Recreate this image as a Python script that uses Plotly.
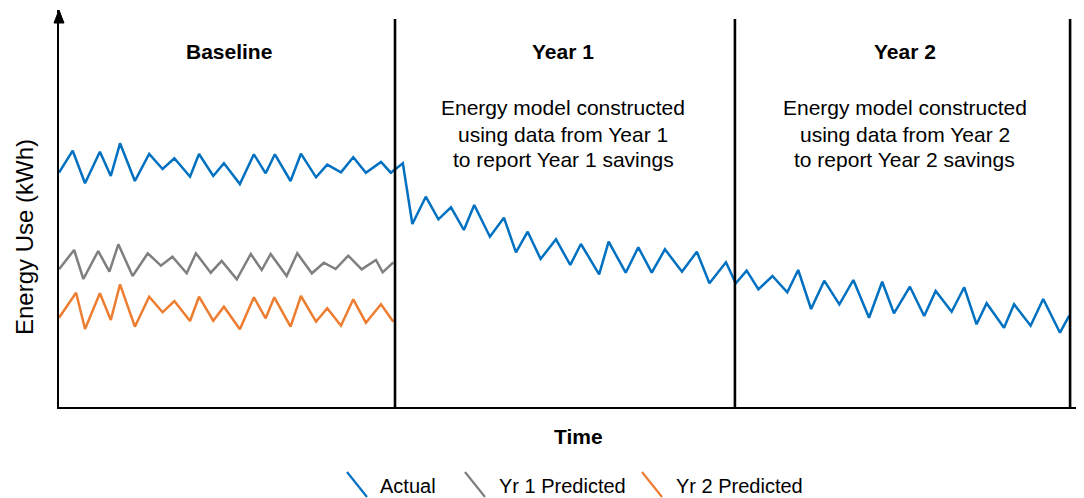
import plotly.graph_objects as go

# ---------------- data (time in months, energy in arbitrary kWh units) ----------------
actual_t = [0.0, 0.49, 0.93, 1.46, 1.85, 2.18, 2.71, 3.22, 3.70, 4.12, 4.68, 5.0, 5.51, 5.89,
            6.46, 6.96, 7.38, 7.71, 8.27, 8.64, 9.18, 9.58, 10.07, 10.51, 10.96, 11.5, 11.85,
            12.28, 12.62, 13.1, 13.55, 14.0, 14.46, 14.83, 15.39, 15.89, 16.32, 16.74, 17.2,
            17.75, 18.26, 18.64, 19.29, 19.63, 20.24, 20.69, 21.17, 21.64, 22.25, 22.78, 23.23,
            23.82, 24.17, 24.56, 24.98, 25.48, 26.01, 26.4, 26.86, 27.33, 27.87, 28.37, 28.93,
            29.4, 29.82, 30.39, 30.9, 31.31, 31.88, 32.33, 32.77, 33.13, 33.75, 34.11, 34.7,
            35.15, 35.75, 36.08]
actual_kwh = [232.3, 254.3, 221.7, 253.3, 229.0, 261.7, 224.0, 251.0, 236.0, 246.7, 228.3, 251.0,
              229.0, 241.7, 221.0, 250.7, 231.7, 250.7, 224.0, 251.3, 227.7, 240.3, 232.7, 247.7,
              232.3, 243.0, 232.3, 241.7, 181.0, 208.3, 185.7, 197.7, 175.0, 200.0, 168.3, 187.3,
              152.7, 173.3, 146.0, 165.7, 140.0, 161.0, 130.7, 163.3, 132.3, 157.7, 132.3, 155.7,
              133.3, 153.3, 121.7, 142.7, 121.7, 134.3, 115.7, 129.0, 112.7, 135.0, 96.0, 124.3,
              100.7, 125.0, 87.3, 123.3, 91.7, 118.3, 89.0, 114.0, 93.3, 117.7, 80.7, 101.7,
              77.3, 100.7, 79.3, 106.0, 72.3, 89.3]

yr1_t = [0.0, 0.54, 0.87, 1.4, 1.8, 2.12, 2.63, 3.17, 3.64, 4.05, 4.56, 4.89, 5.42, 5.81,
         6.35, 6.85, 7.24, 7.56, 8.13, 8.51, 9.03, 9.46, 9.88, 10.33, 10.81, 11.32, 11.56, 11.94]
yr1_kwh = [135.7, 155.0, 126.0, 154.0, 133.3, 160.7, 129.0, 151.7, 139.3, 148.3, 131.7, 151.7,
           132.3, 144.0, 125.7, 151.0, 135.0, 151.0, 129.0, 151.7, 131.7, 142.3, 136.0, 149.3,
           135.7, 145.0, 132.7, 142.7]

yr2_t = [0.0, 0.61, 0.93, 1.46, 1.85, 2.18, 2.71, 3.22, 3.7, 4.12, 4.68, 5.0, 5.51, 5.89,
         6.46, 6.96, 7.38, 7.69, 8.27, 8.64, 9.18, 9.58, 10.07, 10.51, 10.96, 11.5, 11.94]
yr2_kwh = [87.3, 112.3, 76.0, 111.7, 85.0, 120.7, 78.3, 108.3, 92.7, 104.0, 84.0, 108.3,
           84.3, 98.3, 75.7, 107.7, 86.7, 107.7, 78.3, 109.0, 83.3, 96.7, 79.3, 105.7,
           82.3, 100.7, 83.3]

period_bounds = [12.0, 24.14, 36.11]
period_labels = ["Baseline", "Year 1", "Year 2"]
period_centers = [6.07, 18.0, 30.2]
year1_note = ["Energy model constructed", "using data from Year 1", "to report Year 1 savings"]
year2_note = ["Energy model constructed", "using data from Year 2", "to report Year 2 savings"]
series_names = ["Actual", "Yr 1 Predicted", "Yr 2 Predicted"]
series_colors = ["#0070C0", "#7F7F7F", "#ED7D31"]

FONT = "Liberation Sans"
O = 8                      # page body margin of the html page
W, H = 1076, 490           # figure size (fits the 1084x498 window with the page margin)
L, R, T, B = 51, 0, 2, 91
PW, PH = W - L - R, H - T - B


def px(x):                 # window pixel -> paper x
    return (x - O - L) / PW


def py(y):                 # window pixel -> paper y
    return (H - B - (y - O)) / PH


fig = go.Figure()
for t, v, name, col in zip([actual_t, yr1_t, yr2_t], [actual_kwh, yr1_kwh, yr2_kwh],
                           series_names, series_colors):
    fig.add_trace(go.Scatter(x=t, y=v, mode="lines", name=name,
                             line=dict(color=col, width=2.5), showlegend=False))

shapes = []
for b in period_bounds:
    shapes.append(dict(type="line", xref="x", yref="y", x0=b, x1=b, y0=-2, y1=386,
                       line=dict(color="black", width=2.6)))
# arrow head on the y axis
shapes.append(dict(type="path", xref="paper", yref="paper",
                   path=f"M {px(54)} {py(23)} L {px(59)} {py(10)} L {px(64)} {py(23)} Z",
                   fillcolor="black", line=dict(color="black", width=1)))
# legend icons (diagonal strokes)
for x0, col in zip([347, 465, 642], series_colors):
    shapes.append(dict(type="line", xref="paper", yref="paper",
                       x0=px(x0), y0=py(472), x1=px(x0 + 20), y1=py(497),
                       line=dict(color=col, width=2.2)))

ann = []
for c, lab in zip(period_centers, period_labels):
    ann.append(dict(x=c, y=py(52), xref="x", yref="paper", text=f"<b>{lab}</b>",
                    showarrow=False, xanchor="center", yanchor="middle",
                    font=dict(family=FONT, size=21, color="black")))
for note, c in zip([year1_note, year2_note], [18.0, 30.2]):
    for i, line in enumerate(note):
        ann.append(dict(x=c, y=py(108 + 26 * i), xref="x", yref="paper", text=line,
                        showarrow=False, xanchor="center", yanchor="middle",
                        font=dict(family=FONT, size=21, color="black")))
ann.append(dict(x=px(578), y=py(437), xref="paper", yref="paper", text="<b>Time</b>",
                showarrow=False, xanchor="center", yanchor="middle",
                font=dict(family=FONT, size=21, color="black")))
ann.append(dict(x=px(24), y=py(237), xref="paper", yref="paper", text="Energy Use (kWh)",
                textangle=-90, showarrow=False, xanchor="center", yanchor="middle",
                font=dict(family=FONT, size=24, color="black")))
for x0, name in zip([378, 497, 674], series_names):
    ann.append(dict(x=px(x0), y=py(486), xref="paper", yref="paper", text=name,
                    showarrow=False, xanchor="left", yanchor="middle",
                    font=dict(family=FONT, size=20, color="black")))

fig.update_layout(
    width=W, height=H,
    margin=dict(l=L, r=R, t=T, b=B),
    paper_bgcolor="white", plot_bgcolor="white",
    shapes=shapes, annotations=ann,
    xaxis=dict(range=[0, PW / 28.0], showgrid=False, zeroline=False, showticklabels=False,
               ticks="", showline=True, linecolor="black", linewidth=2),
    yaxis=dict(range=[-2, PH - 2], showgrid=False, zeroline=False, showticklabels=False,
               ticks="", showline=True, linecolor="black", linewidth=2),
)

fig.write_html("out.html")
